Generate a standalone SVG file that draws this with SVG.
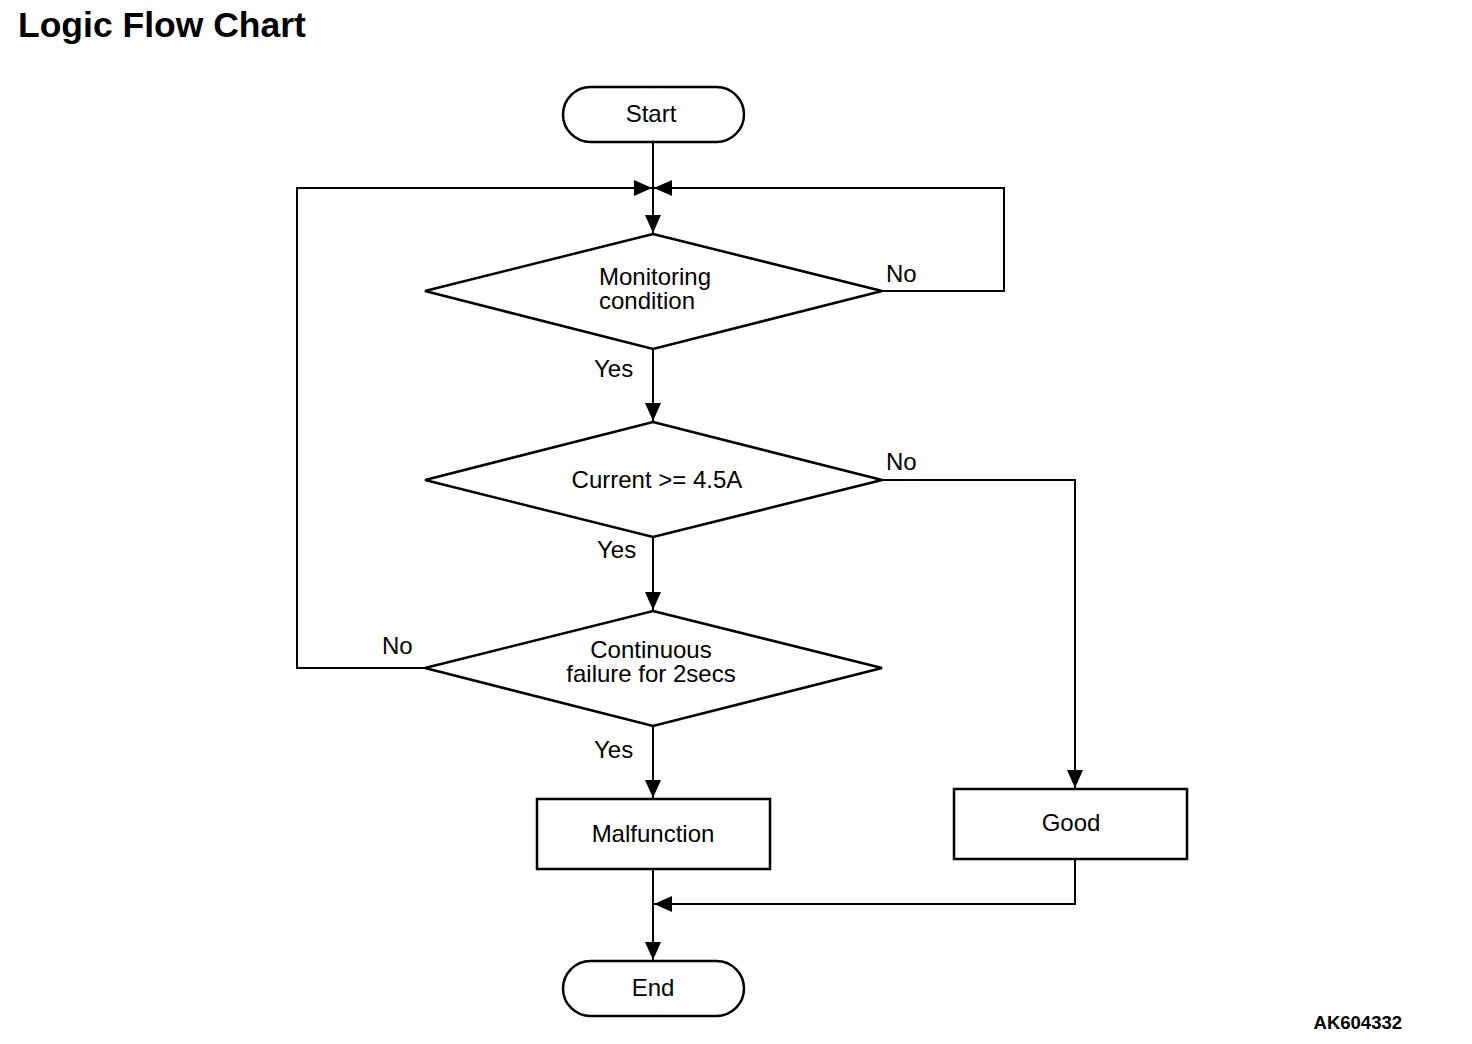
<svg xmlns="http://www.w3.org/2000/svg" width="1472" height="1044" viewBox="0 0 1472 1044">
<style>
text{font-family:"Liberation Sans",Arial,sans-serif;fill:#000}
.t{font-size:24px;text-anchor:middle}
.l{font-size:24px}
.s{fill:#fff;stroke:#000;stroke-width:2.5}
.c{fill:none;stroke:#000;stroke-width:2}
</style>
<defs>
<marker id="a" markerUnits="userSpaceOnUse" markerWidth="20" markerHeight="16" refX="18" refY="8" orient="auto" viewBox="0 0 20 16">
<path d="M0,0 L18,8 L0,16 Z" fill="#000"/>
</marker>
</defs>
<rect width="1472" height="1044" fill="#fff"/>
<text x="18" y="37" style="font-size:35.5px;font-weight:bold">Logic Flow Chart</text>
<text x="1402" y="1029" style="font-size:18.5px;font-weight:bold;text-anchor:end">AK604332</text>
<g id="connectors">
<path class="c" d="M653,142 V188"/>
<path class="c" d="M653,188 V233" marker-end="url(#a)"/>
<path class="c" d="M882,291 H1004 V188 H654" marker-end="url(#a)"/>
<path class="c" d="M425,668 H297 V188 H652" marker-end="url(#a)"/>
<path class="c" d="M653,349 V421" marker-end="url(#a)"/>
<path class="c" d="M653,537 V610" marker-end="url(#a)"/>
<path class="c" d="M882,480 H1075 V788" marker-end="url(#a)"/>
<path class="c" d="M653,726 V798" marker-end="url(#a)"/>
<path class="c" d="M653,869 V960" marker-end="url(#a)"/>
<path class="c" d="M1075,859 V904 H654" marker-end="url(#a)"/>
<text class="l" x="886" y="282">No</text>
<text class="l" x="594" y="377">Yes</text>
<text class="l" x="886" y="470">No</text>
<text class="l" x="597" y="558">Yes</text>
<text class="l" x="382" y="654">No</text>
<text class="l" x="594" y="758">Yes</text>
</g>
<g id="start">
<rect class="s" x="563" y="87" width="181" height="55" rx="27.5"/>
<text class="t" x="651" y="122">Start</text>
</g>
<g id="monitoring">
<polygon class="s" points="653,234 882,291 653,349 425,291"/>
<text class="t" x="655" y="285">Monitoring</text>
<text class="t" x="647" y="309">condition</text>
</g>
<g id="current">
<polygon class="s" points="653,422 882,480 653,537 425,480"/>
<text class="t" x="657" y="488">Current &gt;= 4.5A</text>
</g>
<g id="continuous">
<polygon class="s" points="653,611 882,668 653,726 425,668"/>
<text class="t" x="651" y="658">Continuous</text>
<text class="t" x="651" y="682">failure for 2secs</text>
</g>
<g id="malfunction">
<rect class="s" x="537" y="799" width="233" height="70"/>
<text class="t" x="653" y="842">Malfunction</text>
</g>
<g id="good">
<rect class="s" x="954" y="789" width="233" height="70"/>
<text class="t" x="1071" y="831">Good</text>
</g>
<g id="end">
<rect class="s" x="563" y="961" width="181" height="55" rx="27.5"/>
<text class="t" x="653" y="996">End</text>
</g>
</svg>
